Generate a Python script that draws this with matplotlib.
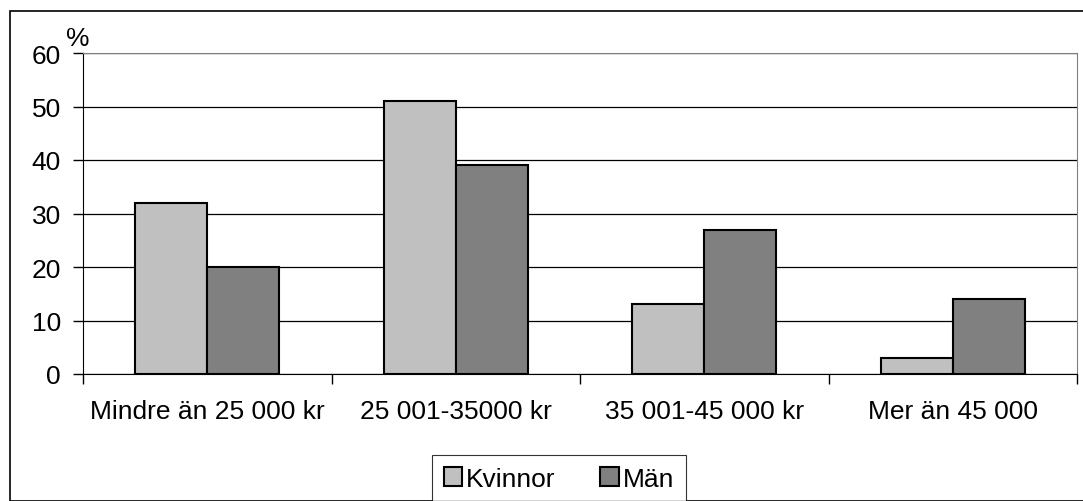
import numpy as np
import matplotlib.pyplot as plt
from matplotlib.patches import Rectangle

categories = ['Mindre än 25 000 kr', '25 001-35000 kr', '35 001-45 000 kr', 'Mer än 45 000']
kvinnor = [32, 51, 13, 3]
man = [20, 39, 27, 14]
series_names = ['Kvinnor', 'Män']

plt.rcParams['font.family'] = ['Liberation Sans', 'DejaVu Sans']
plt.rcParams['font.size'] = 19

fig = plt.figure(figsize=(10.83, 5.02), dpi=100)
# outer chart border
fig.patches.append(Rectangle((10 / 1083, 0.0), 1.2, 1 - 12 / 502, transform=fig.transFigure,
                             fill=False, edgecolor='black', linewidth=1.2))

ax = fig.add_axes([83 / 1083, 1 - 375 / 502, (1077 - 83) / 1083, (375 - 54) / 502])

x = np.arange(len(categories))
w = 0.29
ax.bar(x - w / 2, kvinnor, w, color='#c0c0c0', edgecolor='black', linewidth=1.5, label=series_names[0], zorder=3)
ax.bar(x + w / 2, man, w, color='#808080', edgecolor='black', linewidth=1.5, label=series_names[1], zorder=3)

ax.set_xlim(-0.5, len(categories) - 0.5)
ax.set_ylim(0, 60)
ax.set_yticks(range(0, 61, 10))
ax.yaxis.grid(True, color='black', linewidth=0.9, zorder=0)
ax.set_axisbelow(True)

ax.set_xticks(np.arange(-0.5, len(categories), 1.0))
ax.set_xticklabels([])
ax.set_xticks(x, minor=True)
ax.set_xticklabels(categories, minor=True)
ax.tick_params(axis='x', which='major', direction='out', length=7, width=1)
ax.tick_params(axis='x', which='minor', length=0, pad=18)
ax.tick_params(axis='y', direction='out', length=7, width=1, pad=9)

for side in ['top', 'right']:
    ax.spines[side].set_color('#808080')
ax.spines['left'].set_color('black')
ax.spines['bottom'].set_color('black')

ax.text(-0.017, 1.01, '%', transform=ax.transAxes, ha='left', va='bottom', fontsize=19)

leg = fig.legend(loc='upper center', bbox_to_anchor=(559 / 1083, 1 - 456 / 502), ncol=2, frameon=True,
                 fancybox=False, edgecolor='black', handlelength=0.7, handleheight=0.7,
                 handletextpad=0.15, columnspacing=1.7, borderpad=0.45, borderaxespad=0)
leg.get_frame().set_linewidth(0.8)

fig.savefig('out.png', dpi=100)
